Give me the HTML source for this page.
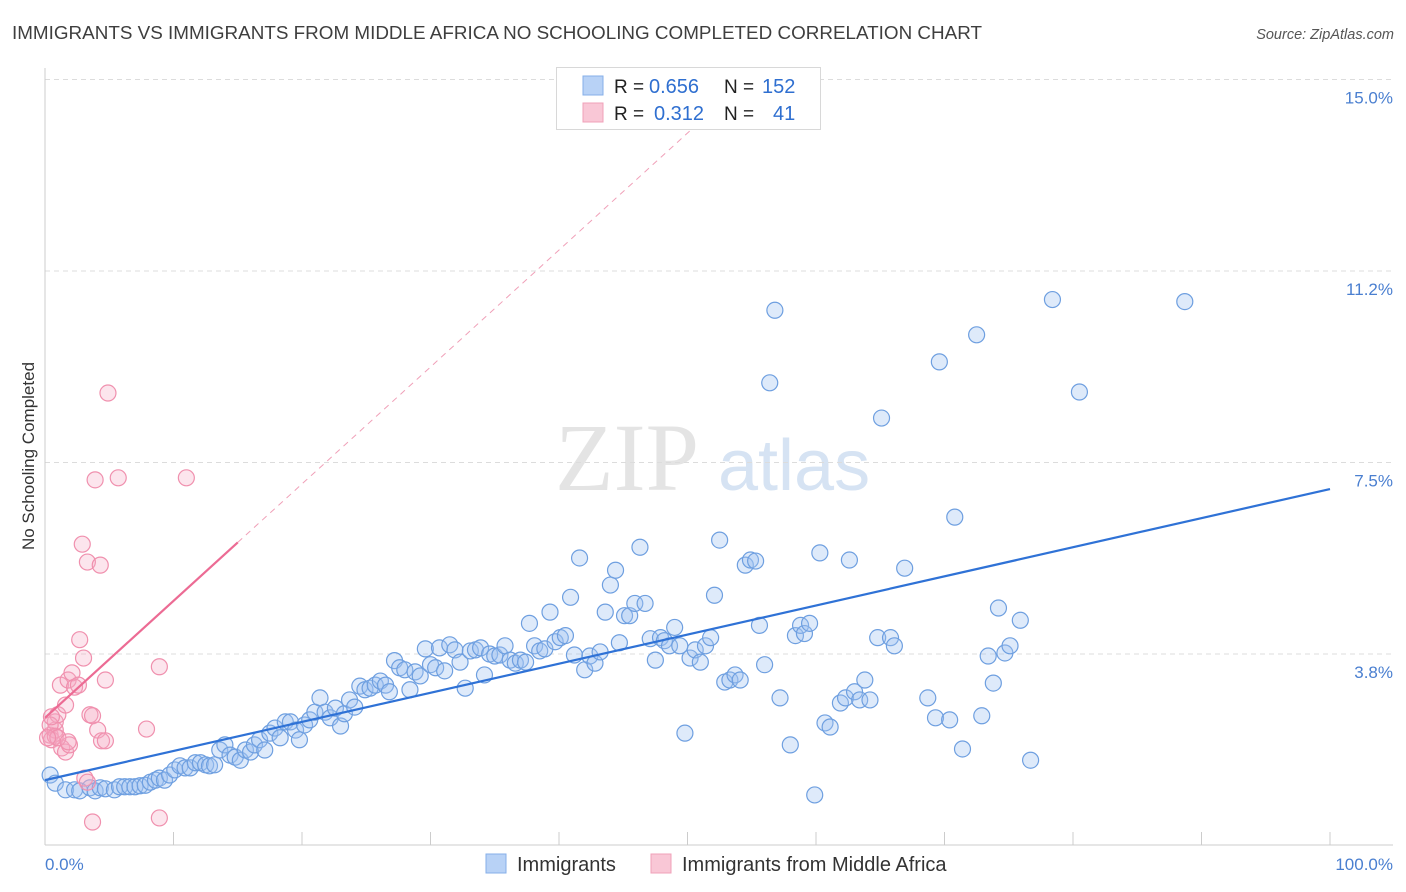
<!DOCTYPE html>
<html><head><meta charset="utf-8"><style>
body{margin:0;background:#fff;font-family:"Liberation Sans",sans-serif;}
#wrap{position:relative;width:1406px;height:892px;overflow:hidden;}
</style></head><body>
<div id="wrap">
<svg id="svg" width="1406" height="892"></svg>
</div>
<script>
const xTicks=[0,10,20,30,40,50,60,70,80,90,100];
const yTicks=[3.75,7.5,11.25,15];
const yTickLabels=["3.8%","7.5%","11.2%","15.0%"];
const blueX=[0.4,0.8,1.6,2.3,2.7,3.5,3.9,4.3,4.7,5.4,5.8,6.2,6.6,7.0,7.4,7.8,8.2,8.6,8.9,9.3,9.7,10.1,10.5,10.9,11.3,11.7,12.1,12.5,12.8,13.2,13.6,14.0,14.4,14.8,15.2,15.6,16.0,16.3,16.7,17.1,17.5,17.9,18.3,18.7,19.1,19.5,19.8,20.2,20.6,21.0,21.4,21.8,22.2,22.6,23.0,23.3,23.7,24.1,24.5,24.9,25.3,25.7,26.1,26.5,26.8,27.2,27.6,28.0,28.4,28.8,29.2,29.6,30.0,30.4,30.7,31.1,31.5,31.9,32.3,32.7,33.1,33.5,33.9,34.2,34.6,35.0,35.4,35.8,36.2,36.6,37.0,37.4,37.7,38.1,38.5,38.9,39.3,39.7,40.1,40.5,40.9,41.2,41.6,42.0,42.4,42.8,43.2,43.6,44.0,44.4,44.7,45.1,45.5,45.9,46.3,46.7,47.1,47.5,47.9,48.2,48.6,49.0,49.4,49.8,50.2,50.6,51.0,51.4,51.8,52.1,52.5,52.9,53.3,53.7,54.1,54.5,54.9,55.3,55.6,56.0,56.4,56.8,57.2,58.0,58.4,58.8,59.1,59.5,59.9,60.3,60.7,61.1,61.9,62.3,62.6,63.0,63.4,63.8,64.2,64.8,65.1,65.8,66.1,66.9,68.7,69.3,69.6,70.4,70.8,71.4,72.5,72.9,73.4,73.8,74.2,74.7,75.1,75.9,76.7,78.4,80.5,88.7];
const blueY=[1.38,1.22,1.09,1.09,1.07,1.13,1.07,1.13,1.11,1.09,1.15,1.15,1.15,1.15,1.17,1.18,1.24,1.28,1.32,1.28,1.38,1.48,1.56,1.52,1.52,1.62,1.62,1.58,1.56,1.58,1.87,1.97,1.77,1.73,1.67,1.87,1.83,1.97,2.07,1.87,2.20,2.30,2.11,2.42,2.42,2.26,2.07,2.36,2.46,2.61,2.89,2.61,2.50,2.69,2.34,2.58,2.85,2.71,3.12,3.05,3.08,3.14,3.22,3.14,3.01,3.62,3.48,3.44,3.05,3.40,3.32,3.85,3.54,3.48,3.87,3.42,3.93,3.83,3.59,3.08,3.81,3.83,3.87,3.34,3.75,3.71,3.73,3.91,3.63,3.57,3.63,3.59,4.35,3.91,3.81,3.85,4.57,3.99,4.07,4.11,4.86,3.73,5.63,3.44,3.71,3.57,3.79,4.57,5.10,5.39,3.97,4.50,4.50,4.74,5.84,4.74,4.05,3.63,4.07,4.01,3.91,4.27,3.91,2.20,3.67,3.83,3.59,3.91,4.07,4.90,5.98,3.20,3.24,3.34,3.24,5.49,5.59,5.57,4.31,3.54,9.06,10.48,2.89,1.97,4.11,4.31,4.15,4.35,0.99,5.73,2.40,2.32,2.79,2.89,5.59,3.01,2.85,3.24,2.85,4.07,8.37,4.07,3.91,5.43,2.89,2.50,9.47,2.46,6.43,1.89,10.00,2.54,3.71,3.18,4.65,3.77,3.91,4.41,1.67,10.69,8.88,10.65];
const pinkX=[0.4,0.5,0.8,0.8,1.0,1.2,1.3,1.6,1.6,1.8,1.9,2.1,2.3,2.6,2.7,2.9,3.0,3.1,3.3,3.3,3.5,3.7,3.7,3.9,4.1,4.3,4.4,4.7,4.7,4.9,5.7,7.9,8.9,8.9,11.0,0.4,0.8,0.5,1.0,1.8,0.2];
const pinkY=[2.16,2.07,2.26,2.42,2.56,3.14,1.91,1.83,2.75,3.24,1.97,3.38,3.10,3.14,4.03,5.90,3.67,1.32,5.55,1.24,2.56,2.54,0.46,7.16,2.26,5.49,2.05,3.24,2.05,8.86,7.20,2.28,3.50,0.54,7.20,2.36,2.14,2.52,2.11,2.03,2.11];
const blueTrend=[1.28,6.98];
const pinkTrend=[2.50,0.229];

const X0=45,X1=1330,YB=845.5,PPU=51.07;
const sx=v=>X0+(X1-X0)*v/100;
const sy=v=>YB-v*PPU;
const svg=document.getElementById('svg');
const NS='http://www.w3.org/2000/svg';
function mk(tag,attrs,parent){const e=document.createElementNS(NS,tag);for(const k in attrs)e.setAttribute(k,attrs[k]);(parent||svg).appendChild(e);return e;}

let t=mk('text',{x:12,y:39,'font-size':18,fill:'#3e3e3e',textLength:970,lengthAdjust:'spacingAndGlyphs'});t.textContent='IMMIGRANTS VS IMMIGRANTS FROM MIDDLE AFRICA NO SCHOOLING COMPLETED CORRELATION CHART';

t=mk('text',{x:1394,y:39,'font-size':14.5,fill:'#555','text-anchor':'end','font-style':'italic'});t.textContent='Source: ZipAtlas.com';


t=mk('text',{x:555,y:490,'font-size':96,fill:'#e4e4e4','font-family':'Liberation Serif,serif'});t.textContent='ZIP';

t=mk('text',{x:718,y:490,'font-size':72,fill:'#d6e3f3'});t.textContent='atlas';


yTicks.forEach((v,i)=>{
  const g=mk('line',{x1:X0,x2:1393,y1:sy(v),y2:sy(v),stroke:'#dcdcdc','stroke-dasharray':'5,4'});
  
  const l=mk('text',{x:1393,y:sy(v)+24,'font-size':17,fill:'#4a7fd0','text-anchor':'end'});l.textContent=yTickLabels[i];
  
});
let a=mk('line',{x1:X0,x2:X0,y1:68,y2:845,stroke:'#ccc'});
a=mk('line',{x1:X0,x2:1393,y1:845,y2:845,stroke:'#ccc'});
xTicks.forEach(v=>{const k=mk('line',{x1:sx(v),x2:sx(v),y1:832,y2:845,stroke:'#ccc'});});
t=mk('text',{x:45,y:870,'font-size':17,fill:'#4a7fd0'});t.textContent='0.0%';
t=mk('text',{x:1393,y:870,'font-size':17,fill:'#4a7fd0','text-anchor':'end'});t.textContent='100.0%';
t=mk('text',{x:34,y:456,'font-size':17,fill:'#333','text-anchor':'middle',transform:'rotate(-90 34 456)'});t.textContent='No Schooling Completed';


blueX.forEach((v,i)=>{const c=mk('circle',{cx:sx(v),cy:sy(blueY[i]),r:8,fill:'rgba(160,196,240,0.35)',stroke:'#6e9fe0','stroke-width':1.2});
});
pinkX.forEach((v,i)=>{const c=mk('circle',{cx:sx(v),cy:sy(pinkY[i]),r:8,fill:'rgba(245,170,195,0.3)',stroke:'#f090ae','stroke-width':1.2});
});

let ln=mk('line',{x1:sx(0),y1:sy(blueTrend[0]),x2:sx(100),y2:sy(blueTrend[1]),stroke:'#2f72d6','stroke-width':2.2});

const xe=(15-pinkTrend[0])/pinkTrend[1];
ln=mk('line',{x1:sx(15),y1:sy(pinkTrend[0]+15*pinkTrend[1]),x2:sx(xe),y2:sy(15),stroke:'#f0a0b8','stroke-width':1,'stroke-dasharray':'6,5'});

ln=mk('line',{x1:sx(0),y1:sy(pinkTrend[0]),x2:sx(15),y2:sy(pinkTrend[0]+15*pinkTrend[1]),stroke:'#ec6b94','stroke-width':2.2});


const lg=mk('g',{});
mk('rect',{x:556.5,y:67.5,width:264,height:62,fill:'#fff',stroke:'#d8d8d8'},lg);
mk('rect',{x:583,y:76,width:20,height:19,fill:'#b8d2f6',stroke:'#86afe8'},lg);
mk('rect',{x:583,y:103,width:20,height:19,fill:'#f9c7d6',stroke:'#f0a0b8'},lg);
[[93,'R = ','0.656','N = ','152',649,762],[120,'R = ','0.312','N = ','41',654,773]].forEach(r=>{
  let e=mk('text',{x:614,y:r[0],'font-size':19,fill:'#222'},lg);e.textContent=r[1];
  e=mk('text',{x:r[5],y:r[0],'font-size':20,fill:'#2f6fd0'},lg);e.textContent=r[2];
  e=mk('text',{x:724,y:r[0],'font-size':19,fill:'#222'},lg);e.textContent=r[3];
  e=mk('text',{x:r[6],y:r[0],'font-size':20,fill:'#2f6fd0'},lg);e.textContent=r[4];
});

const bl=mk('g',{});
mk('rect',{x:486,y:854,width:20,height:19,fill:'#b8d2f6',stroke:'#86afe8'},bl);
t=mk('text',{x:517,y:871,'font-size':20,fill:'#333'},bl);t.textContent='Immigrants';
mk('rect',{x:651,y:854,width:20,height:19,fill:'#f9c7d6',stroke:'#f0a0b8'},bl);
t=mk('text',{x:682,y:871,'font-size':20,fill:'#333'},bl);t.textContent='Immigrants from Middle Africa';
</script>
</body></html>
